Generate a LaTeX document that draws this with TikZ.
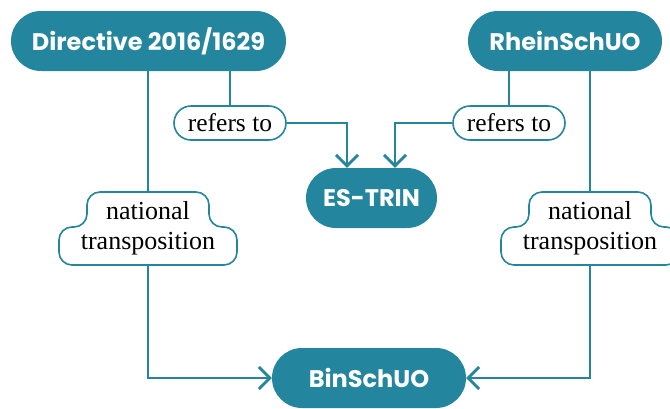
\documentclass[tikz,border=0pt]{standalone}
\usepackage{fontspec}
\setsansfont{Poppins}
\newfontfamily\labelfont{Liberation Serif}
\usetikzlibrary{arrows.meta}
\definecolor{teal}{RGB}{36,134,158}
\tikzset{
  mainnode/.style={draw=none, fill=teal, text=white, rounded corners=30pt,
    minimum height=60pt, inner sep=0pt, font=\sffamily\bfseries\fontsize{24}{28}\selectfont},
  reflabel/.style={draw=teal, line width=1.6pt, fill=white, rounded corners=17pt,
    minimum width=112pt, minimum height=34pt, inner sep=0pt,
    font=\labelfont\fontsize{25.5}{30}\selectfont},
  ntlabel/.style={inner sep=0pt, minimum width=178pt, minimum height=73pt,
    align=center, font=\labelfont\fontsize{26}{30}\selectfont},
  conn/.style={draw=teal, line width=2.8pt},
  arr/.style={conn, -{Straight Barb[length=11pt, width=22pt, line width=2.8pt]}},
}
\newcommand\cloudoutline[1]{%
  \draw[teal, line width=1.6pt, fill=white, rounded corners=13pt, shift={(#1.center)}]
    (-61,-36.5) -- (61,-36.5) -- (61,-1.5) -- (89,-1.5) -- (89,36.5)
    -- (-89,36.5) -- (-89,-1.5) -- (-61,-1.5) -- cycle;}
\begin{document}
\begin{tikzpicture}[x=1pt, y=-1pt]
\useasboundingbox (0,0) rectangle (670,408);
% main nodes
\node[mainnode, minimum width=275pt] (dir) at (148.5,41) {Directive 2016/1629};
\node[mainnode, minimum width=194pt] (rhein) at (565,41) {RheinSchUO};
\node[mainnode, minimum width=131pt] (estrin) at (371.5,198) {ES-TRIN};
\node[mainnode, minimum width=194pt] (bin) at (369,378) {BinSchUO};
% refers to labels
\node[reflabel] (ref1) at (230,123) {refers to};
\node[reflabel] (ref2) at (509,123) {refers to};
% national transposition labels
\coordinate (c1) at (148,228.5);
\coordinate (c2) at (590,228.5);
\cloudoutline{c1}
\cloudoutline{c2}
\node[ntlabel] (nt1) at (c1) {national\\transposition};
\node[ntlabel] (nt2) at (c2) {national\\transposition};
% connectors
\draw[conn] (dir.south -| ref1) -- (ref1.north);
\draw[arr] (ref1.east) -| ([xshift=-24.5pt]estrin.north);
\draw[conn] (rhein.south -| ref2) -- (ref2.north);
\draw[arr] (ref2.west) -| ([xshift=23.5pt]estrin.north);
\draw[conn] (dir.south -| nt1) -- (nt1.north);
\draw[arr] (nt1.south) |- (bin.west);
\draw[conn] (rhein.south -| nt2) -- (nt2.north);
\draw[arr] (nt2.south) |- (bin.east);
\end{tikzpicture}
\end{document}
